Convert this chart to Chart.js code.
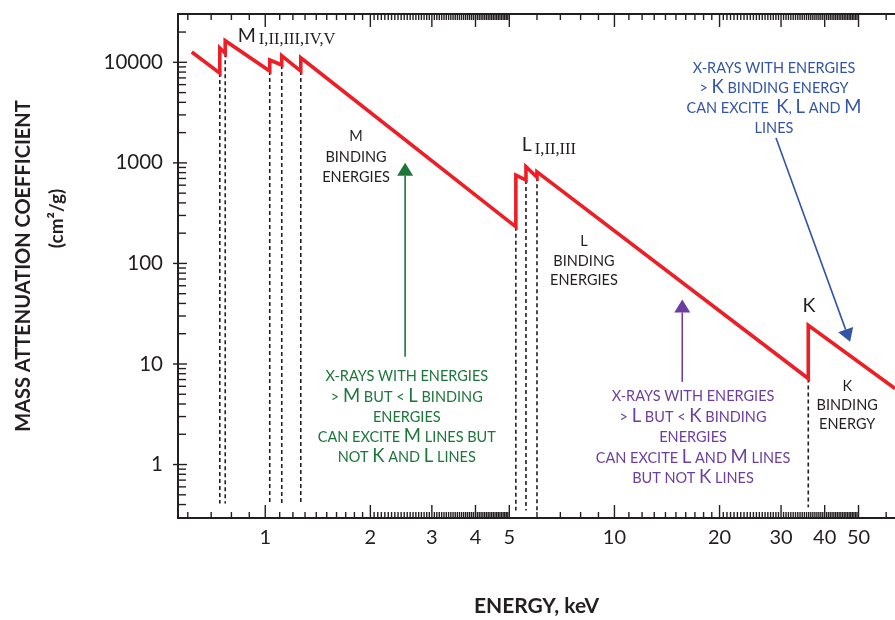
<!DOCTYPE html>
<html>
<head>
<meta charset="utf-8">
<script src="https://cdn.jsdelivr.net/npm/chart.js@4.4.1/dist/chart.umd.min.js"></script>
<style>
  html, body { margin: 0; padding: 0; background: #fff; }
  #wrap { width: 895px; height: 620px; position: relative; }
</style>
</head>
<body>
<div id="wrap"><canvas id="c" width="895" height="620"></canvas></div>
<script>
// Photon energy (keV) along the absorption curve; a repeated energy is a jump at an absorption edge
const energyKeV = [0.616, 0.741, 0.741, 0.768, 0.768, 1.030, 1.030, 1.115, 1.115, 1.264, 1.264,
                   5.22, 5.22, 5.58, 5.58, 6.00, 6.00, 35.9, 35.9, 63.6];
// Mass attenuation coefficient (cm²/g) at those energies
const massAtten = [12660, 7816, 13870, 12290, 16400, 8190, 10540, 9400, 11630, 8190, 11110,
                   231, 757, 675, 915, 718, 815, 7.17, 24.3, 5.70];
// Absorption edges: energy, coefficient at the foot of the jump, lower end of the dashed marker
const edgeEnergy = [0.741, 0.768, 1.030, 1.115, 1.264, 5.22, 5.58, 6.00, 35.9];
const edgeLow    = [7816, 12290, 8190, 9400, 8190, 231, 675, 718, 7.17];
const edgeFoot   = [0.41, 0.41, 0.41, 0.41, 0.41, 0.35, 0.35, 0.35, 0.375];
// Labelled ticks
const xTickLabels = [1, 2, 3, 4, 5, 10, 20, 30, 40, 50];
const yTickLabels = [1, 10, 100, 1000, 10000];

const INK = '#231f20';
const RED = 'rgb(237,30,38)';
const GREEN = 'rgb(28,118,58)';
const PURPLE = 'rgb(108,62,160)';
const BLUE = 'rgb(52,84,166)';
const SANS = 'Lato, "Open Sans", sans-serif';
const SERIF = '"Liberation Serif", "DejaVu Serif", serif';

// Unlabelled tick marks on the energy axis
function range(a, b, step) {
  const out = [];
  for (let i = 0; a + i * step <= b + 1e-9; i++) out.push(+(a + i * step).toFixed(3));
  return out;
}
const xMinorTicks = [].concat(
  range(0.6, 0.9, 0.1), range(1.1, 1.9, 0.1), range(2.05, 4.95, 0.05),
  range(6, 9, 1), range(11, 19, 1), range(20.5, 49.5, 0.5), [60]
).filter(v => !xTickLabels.includes(v));
const yMinorTicks = [];
[0.1, 1, 10, 100, 1000, 10000].forEach(d => { for (let k = 2; k <= 9; k++) yMinorTicks.push(d * k); });

// Text blocks placed at (energy, coefficient); {X} marks a larger capital
const notes = [
  { e: 1.82, v: 1848, gap: 20.5, color: INK, lines: ['M', 'BINDING', 'ENERGIES'] },
  { e: 8.178, v: 166.7, gap: 19.5, color: INK, lines: ['L', 'BINDING', 'ENERGIES'] },
  { e: 46.4, v: 6.01, gap: 19, color: INK, lines: ['K', 'BINDING', 'ENERGY'] },
  { e: 2.543, v: 7.56, gap: 20.2, color: GREEN, lines: [
      'X-RAYS WITH ENERGIES', '> {M} BUT < {L} BINDING', 'ENERGIES',
      'CAN EXCITE {M} LINES BUT', 'NOT {K} AND {L} LINES'] },
  { e: 16.79, v: 4.78, gap: 20.5, color: PURPLE, lines: [
      'X-RAYS WITH ENERGIES', '> {L} BUT < {K} BINDING', 'ENERGIES',
      'CAN EXCITE {L} AND {M} LINES', 'BUT NOT {K} LINES'] },
  { e: 28.64, v: 8776, gap: 20, color: BLUE, lines: [
      'X-RAYS WITH ENERGIES', '> {K} BINDING ENERGY', 'CAN EXCITE  {K}, {L} AND {M}', 'LINES'] }
];
// Edge-group names: main letter plus roman-numeral subshells
const edgeNames = [
  { e: 0.834, v: 16107, main: 'M', sub: 'I,II,III,IV,V' },
  { e: 5.43, v: 1310, main: 'L', sub: 'I,II,III' },
  { e: 36.08, v: 38.5, main: 'K', sub: '' }
];
// Pointer arrows from each text block
const arrows = [
  { from: [2.515, 11.77], to: [2.515, 1002], color: GREEN },
  { from: [15.64, 6.64], to: [15.64, 43.8], color: PURPLE },
  { from: [29.02, 1765], to: [47.3, 16.6], color: BLUE }
];

function drawRich(ctx, line, cx, cy, size, bigSize) {
  const parts = line.split(/(\{[^}]+\})/).filter(s => s.length)
    .map(s => s[0] === '{' ? { t: s.slice(1, -1), big: true } : { t: s, big: false });
  let w = 0;
  parts.forEach(p => {
    ctx.font = `${p.big ? bigSize : size}px ${SANS}`;
    p.w = ctx.measureText(p.t).width;
    w += p.w;
  });
  let xx = cx - w / 2;
  const base = cy + size * 0.36;
  ctx.textAlign = 'left';
  ctx.textBaseline = 'alphabetic';
  parts.forEach(p => {
    ctx.font = `${p.big ? bigSize : size}px ${SANS}`;
    ctx.fillText(p.t, xx, base);
    xx += p.w;
  });
}

const axisDecor = {
  id: 'axisDecor',
  afterDraw(chart) {
    const { ctx, chartArea: a, scales: { x, y } } = chart;
    ctx.save();
    ctx.strokeStyle = INK;
    ctx.lineWidth = 2;
    ctx.beginPath();
    ctx.moveTo(a.left - 1, a.top);
    ctx.lineTo(a.right, a.top);
    ctx.stroke();
    ctx.lineWidth = 1.4;
    const seg = (x1, y1, x2, y2) => { ctx.beginPath(); ctx.moveTo(x1, y1); ctx.lineTo(x2, y2); ctx.stroke(); };
    xMinorTicks.forEach(v => {
      const p = x.getPixelForValue(v);
      if (p < a.left + 1 || p > a.right) return;
      seg(p, a.bottom, p, a.bottom - 6);
      seg(p, a.top, p, a.top + 6);
    });
    xTickLabels.forEach(v => {
      const p = x.getPixelForValue(v);
      seg(p, a.bottom, p, a.bottom - 13);
      seg(p, a.top, p, a.top + 13);
    });
    yMinorTicks.forEach(v => {
      const p = y.getPixelForValue(v);
      if (p > a.bottom - 1 || p < a.top + 1) return;
      seg(a.left, p, a.left + 8, p);
    });
    yTickLabels.forEach(v => {
      const p = y.getPixelForValue(v);
      seg(a.left - 5, p, a.left + 9, p);
    });
    // second line of the value-axis title
    ctx.fillStyle = INK;
    ctx.font = `bold 19px ${SANS}`;
    ctx.translate(57, y.getPixelForValue(280));
    ctx.rotate(-Math.PI / 2);
    ctx.textAlign = 'center';
    ctx.textBaseline = 'middle';
    ctx.fillText('(cm²/g)', 0, 0);
    ctx.restore();
  }
};

const annotations = {
  id: 'annotations',
  afterDatasetsDraw(chart) {
    const { ctx, scales: { x, y } } = chart;
    ctx.save();
    notes.forEach(n => {
      const cx = x.getPixelForValue(n.e);
      const cy = y.getPixelForValue(n.v);
      ctx.fillStyle = n.color;
      n.lines.forEach((ln, i) => drawRich(ctx, ln, cx, cy + i * n.gap, 14.5, 18.5));
    });
    edgeNames.forEach(n => {
      const px = x.getPixelForValue(n.e);
      const py = y.getPixelForValue(n.v);
      ctx.fillStyle = INK;
      ctx.textBaseline = 'alphabetic';
      ctx.font = `19.5px ${SANS}`;
      if (!n.sub) {
        ctx.textAlign = 'center';
        ctx.fillText(n.main, px, py + 7);
        return;
      }
      ctx.textAlign = 'left';
      ctx.fillText(n.main, px, py);
      const w = ctx.measureText(n.main).width;
      ctx.font = `16.5px ${SERIF}`;
      ctx.fillText(n.sub, px + w + 3, py + 2.5);
    });
    arrows.forEach(ar => {
      const x1 = x.getPixelForValue(ar.from[0]), y1 = y.getPixelForValue(ar.from[1]);
      const x2 = x.getPixelForValue(ar.to[0]), y2 = y.getPixelForValue(ar.to[1]);
      const ang = Math.atan2(y2 - y1, x2 - x1);
      const len = 13, half = 8;
      ctx.strokeStyle = ar.color;
      ctx.fillStyle = ar.color;
      ctx.lineWidth = 1.6;
      ctx.beginPath();
      ctx.moveTo(x1, y1);
      ctx.lineTo(x2 - Math.cos(ang) * len, y2 - Math.sin(ang) * len);
      ctx.stroke();
      const bx = x2 - Math.cos(ang) * len, by = y2 - Math.sin(ang) * len;
      ctx.beginPath();
      ctx.moveTo(x2, y2);
      ctx.lineTo(bx + Math.sin(ang) * half, by - Math.cos(ang) * half);
      ctx.lineTo(bx - Math.sin(ang) * half, by + Math.cos(ang) * half);
      ctx.closePath();
      ctx.fill();
    });
    ctx.restore();
  }
};

const curve = energyKeV.map((e, i) => ({ x: e, y: massAtten[i] }));
const edgeSets = edgeEnergy.map((e, i) => ({
  data: [{ x: e, y: edgeLow[i] }, { x: e, y: edgeFoot[i] }],
  borderColor: INK,
  borderWidth: 1.6,
  borderDash: [4, 3],
  pointRadius: 0,
  fill: false
}));

new Chart(document.getElementById('c'), {
  type: 'line',
  data: {
    datasets: [
      { data: curve, borderColor: RED, borderWidth: 3.6, pointRadius: 0, fill: false,
        tension: 0, borderJoinStyle: 'miter' },
      ...edgeSets
    ]
  },
  options: {
    responsive: false,
    animation: false,
    events: [],
    layout: { padding: { top: 14, right: 0, bottom: 0, left: 0 } },
    plugins: { legend: { display: false }, tooltip: { enabled: false } },
    scales: {
      x: {
        type: 'logarithmic',
        min: 0.5625,
        max: 63.6,
        afterBuildTicks: s => { s.ticks = xTickLabels.map(v => ({ value: v })); },
        afterFit: s => { s.height = 102; s.paddingLeft = 0; s.paddingRight = 0; },
        grid: { display: false, drawTicks: false },
        border: { display: true, color: INK, width: 2 },
        ticks: {
          autoSkip: false, maxRotation: 0, padding: 8, color: INK,
          font: { family: SANS, size: 20 },
          callback: v => String(v)
        },
        title: {
          display: true, text: 'ENERGY, keV', color: INK,
          font: { family: SANS, size: 21, weight: 'bold' },
          padding: { top: 0, bottom: 1 }
        }
      },
      y: {
        type: 'logarithmic',
        min: 0.294,
        max: 30240,
        afterBuildTicks: s => { s.ticks = yTickLabels.map(v => ({ value: v })); },
        afterFit: s => { s.width = 178; s.paddingTop = 0; s.paddingBottom = 0; },
        grid: { display: false, drawTicks: false },
        border: { display: true, color: INK, width: 2 },
        ticks: {
          autoSkip: false, padding: 15, color: INK,
          font: { family: SANS, size: 20.5 },
          callback: v => String(v)
        },
        title: {
          display: true, text: 'MASS ATTENUATION COEFFICIENT', color: INK,
          font: { family: SANS, size: 20, weight: 'bold' },
          padding: { top: 12, bottom: 0 }
        }
      }
    }
  },
  plugins: [axisDecor, annotations]
});
</script>
</body>
</html>
